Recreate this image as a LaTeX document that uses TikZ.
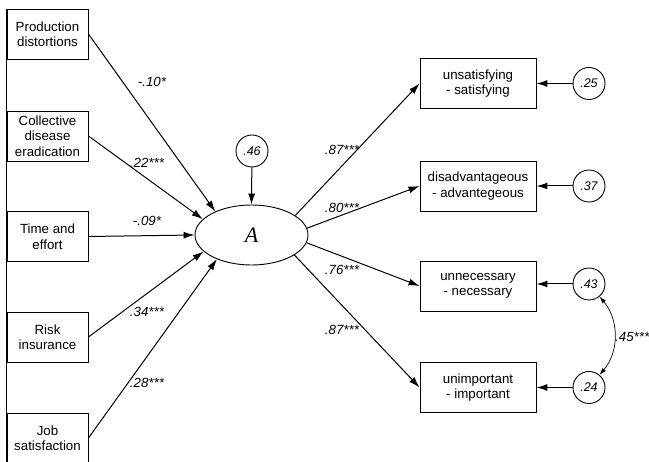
\documentclass[tikz,border=0pt]{standalone}
\usepackage{fontspec}
\setmainfont{Liberation Sans}
\newfontfamily\serifA{Liberation Serif}
\usetikzlibrary{arrows.meta,shapes.geometric}
\begin{document}
\begin{tikzpicture}[x=1pt,y=1pt,
  box/.style={draw,line width=0.9pt,minimum width=81pt,minimum height=50pt,align=center,inner sep=0pt,font=\fontsize{13.3}{15.5}\selectfont},
  rbox/.style={box,minimum width=116pt},
  err/.style={draw,circle,line width=0.9pt,minimum size=32pt,inner sep=0pt,font=\fontsize{12.5}{14}\selectfont\itshape},
  lab/.style={font=\fontsize{13.3}{15}\selectfont\itshape,inner sep=0pt},
  arr/.style={-{Latex[length=11pt,width=7pt]},line width=1pt},
  carr/.style={{Latex[length=7pt,width=4.5pt]}-{Latex[length=7pt,width=4.5pt]},line width=0.7pt},
]
\useasboundingbox (0,0) rectangle (649,-462);
\fill[white] (0,0) rectangle (649,-462);

% left boxes
\node[box] (b1) at (47.5,-34) {Production\\distortions};
\node[box] (b2) at (47.5,-136) {Collective\\disease\\eradication};
\node[box] (b3) at (47.5,-236.5) {Time and\\effort};
\node[box] (b4) at (47.5,-337) {Risk\\insurance};
\node[box] (b5) at (47.5,-438) {Job\\satisfaction};
\draw[line width=0.9pt] (b1.north west) -- (b5.south west);

% latent
\node[draw,ellipse,line width=0.9pt,minimum width=113pt,minimum height=60pt,inner sep=0pt,font=\fontsize{22}{24}\selectfont\serifA\itshape] (A) at (251.5,-235) {A};
\node[err] (e46) at (252,-151) {.46};
\draw[arr] (e46) -- (A.north);

% right boxes
\node[rbox] (r1) at (478,-83.5) {unsatisfying\\- satisfying};
\node[rbox] (r2) at (478,-186) {disadvantageous\\- advantegeous};
\node[rbox] (r3) at (478,-286) {unnecessary\\- necessary};
\node[rbox] (r4) at (478,-387.5) {unimportant\\- important};

\node[err] (c25) at (589,-83.5) {.25};
\node[err] (c37) at (589,-186) {.37};
\node[err] (c43) at (589,-284) {.43};
\node[err] (c24) at (589,-387.5) {.24};

\draw[arr] (c25) -- (r1);
\draw[arr] (c37) -- (r2);
\draw[arr] (c43.west) -- (r3.east |- c43.west);
\draw[arr] (c24) -- (r4);
\draw[carr] (c43.-50) to[bend left=40] (c24.50);
\node[lab,anchor=west] (l45) at (615,-337) {.45***};

% paths into A
\draw[arr] (b1.east) -- (A.147);
\draw[arr] (b2.east) -- (A.162);
\draw[arr] (b3.east) -- (A.180);
\draw[arr] (b4.east) -- (A.199);
\draw[arr] (b5.east) -- (A.215);

\node[lab] (l1) at (152,-82) {-.10*};
\node[lab] (l2) at (147,-163) {.22***};
\node[lab] (l3) at (147,-221) {-.09*};
\node[lab] (l4) at (147,-312) {.34***};
\node[lab] (l5) at (147,-383) {.28***};

% paths out of A
\draw[arr] (A.24) -- (r1.west);
\draw[arr] (A.7) -- (r2.west);
\draw[arr] (A.-8) -- (r3.west);
\draw[arr] (A.-25) -- (r4.west);

\node[lab] (m1) at (342,-150) {.87***};
\node[lab] (m2) at (342,-208) {.80***};
\node[lab] (m3) at (342,-270) {.76***};
\node[lab] (m4) at (342,-330) {.87***};
\end{tikzpicture}
\end{document}
